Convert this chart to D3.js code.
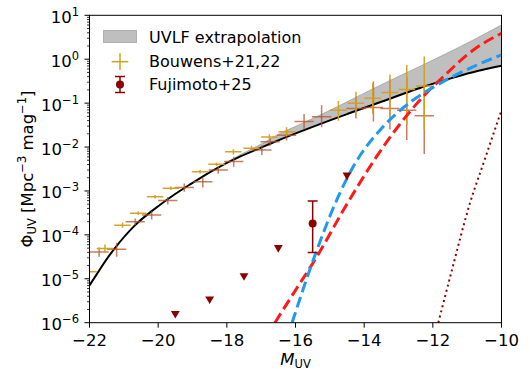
<!DOCTYPE html>
<html>
<head>
<meta charset="utf-8">
<script src="https://cdn.jsdelivr.net/npm/d3@7"></script>
<style>
  body { margin: 0; background: #fff; }
  text { font-family: "DejaVu Sans", sans-serif; fill: #000; }
</style>
</head>
<body>
<script>
// --- données (log10 de Phi) ---
const xTicks = [-22, -20, -18, -16, -14, -12, -10];
const yTickExps = [-6, -5, -4, -3, -2, -1, 0, 1];

// courbe noire (modèle)
const modelM   = [-22, -21.6, -21.26, -20.7, -20.14, -19.6, -19.07, -18.4, -17.62, -16.9, -16.45, -15.5, -14.5, -13.5, -12.4, -11.4, -10.7, -10];
const modelLog = [-5.15, -4.67, -4.3, -3.8, -3.43, -3.12, -2.85, -2.53, -2.22, -1.98, -1.83, -1.54, -1.25, -0.97, -0.66, -0.42, -0.27, -0.15];
// bord haut de la bande grise (extrapolation)
const bandHiLog = [-5.15, -4.67, -4.3, -3.8, -3.43, -3.12, -2.85, -2.53, -2.18, -1.89, -1.69, -1.35, -0.97, -0.58, -0.17, 0.21, 0.49, 0.78];

// courbe rouge en tirets
const redM   = [-16.6, -16.0, -15.38, -14.6, -13.64, -13.0, -12.28, -11.79, -10.82, -10];
const redLog = [-6.0, -5.26, -4.5, -3.43, -2.22, -1.52, -0.85, -0.47, 0.21, 0.59];
// courbe bleue en tirets
const blueM   = [-16.1, -15.38, -14.75, -14.32, -13.45, -12.57, -11.79, -10.82, -10];
const blueLog = [-6.0, -4.35, -3.12, -2.45, -1.54, -0.93, -0.55, -0.17, 0.1];
// courbe pointillée
const dotM   = [-11.84, -11.45, -10.92, -10.5, -10];
const dotLog = [-6.0, -4.82, -3.28, -2.31, -1.16];

// Bouwens+21 (doré)
const goldM   = [-22.03, -21.55, -21.04, -20.58, -20.09, -19.63, -18.78, -18.30, -17.81, -17.28, -16.76, -16.26, -14.75, -14.24, -13.75, -13.25, -12.76, -12.25];
const goldLog = [-4.84, -4.31, -3.78, -3.51, -3.13, -2.94, -2.56, -2.39, -2.11, -2.03, -1.77, -1.65, -1.16, -1.00, -0.89, -0.76, -0.69, -0.61];
const goldHi  = [-4.78, -4.22, -3.72, -3.47, -3.09, -2.90, -2.52, -2.35, -2.05, -1.97, -1.71, -1.55, -0.95, -0.74, -0.55, -0.35, -0.13, 0.06];
const goldLo  = [-4.91, -4.41, -3.84, -3.55, -3.17, -2.98, -2.60, -2.43, -2.17, -2.09, -1.83, -1.75, -1.40, -1.25, -1.25, -1.30, -1.50, -1.60];
// Bouwens+22 (brun)
const brownM   = [-21.72, -21.21, -20.67, -20.19, -19.72, -19.24, -18.70, -18.25, -17.80, -16.98, -16.74, -16.26, -15.75, -15.24, -14.24, -13.73, -13.25, -12.76, -12.25];
const brownLog = [-4.39, -4.33, -3.70, -3.55, -3.22, -2.92, -2.79, -2.52, -2.33, -2.07, -1.88, -1.73, -1.42, -1.31, -1.12, -1.10, -1.12, -1.16, -1.29];
const brownHi  = [-4.29, -4.18, -3.63, -3.46, -3.14, -2.83, -2.70, -2.44, -2.22, -1.96, -1.80, -1.62, -1.25, -1.05, -0.85, -0.51, -0.45, -0.40, -0.60];
const brownLo  = [-4.50, -4.50, -3.78, -3.65, -3.31, -3.02, -2.92, -2.61, -2.45, -2.18, -1.97, -1.85, -1.60, -1.55, -1.35, -1.42, -1.60, -1.84, -2.16];

// Fujimoto+25
const fujiM = [-15.5], fujiLog = [-3.74], fujiHi = [-3.23], fujiLo = [-4.40];
// limites supérieures
const limM   = [-19.5, -18.5, -17.5, -16.5, -14.5];
const limLog = [-5.79, -5.46, -4.93, -4.29, -2.64];

const W = 530, H = 383;
const plotL = 89.5, plotR = 501.5, plotT = 15.3, plotB = 322.7;

const x = d3.scaleLinear().domain([-22, -10]).range([plotL, plotR]);
const y = d3.scaleLog().domain([1e-6, 10]).range([plotB, plotT]);
const p = v => Math.pow(10, v);

const svg = d3.select("body").append("svg").attr("width", W).attr("height", H);

svg.append("clipPath").attr("id", "clip")
  .append("rect").attr("x", plotL).attr("y", plotT)
  .attr("width", plotR - plotL).attr("height", plotB - plotT);

const plot = svg.append("g").attr("clip-path", "url(#clip)");

// bande grise
const band = modelM.map((m, i) => ({ m: m, lo: modelLog[i], hi: bandHiLog[i] }));
plot.append("path")
  .datum(band)
  .attr("d", d3.area().curve(d3.curveNatural)
    .x(d => x(d.m)).y0(d => y(p(d.lo))).y1(d => y(p(d.hi))))
  .attr("fill", "#808080").attr("fill-opacity", 0.5)
  .attr("stroke", "#808080").attr("stroke-opacity", 0.5);

const smooth = d3.line().curve(d3.curveNatural).x(d => x(d[0])).y(d => y(p(d[1])));
const line = d3.line().curve(d3.curveMonotoneX).x(d => x(d[0])).y(d => y(p(d[1])));

// courbe noire
plot.append("path")
  .datum(modelM.map((m, i) => [m, modelLog[i]]))
  .attr("d", smooth).attr("fill", "none").attr("stroke", "#000").attr("stroke-width", 2);

// barres d'erreur Bouwens
function errorBars(ms, logs, his, los, xe, color, op) {
  const g = plot.append("g").attr("stroke", color).attr("stroke-width", 1.5).attr("stroke-opacity", op);
  ms.forEach((m, i) => {
    g.append("line").attr("x1", x(m - xe)).attr("x2", x(m + xe))
      .attr("y1", y(p(logs[i]))).attr("y2", y(p(logs[i])));
    g.append("line").attr("x1", x(m)).attr("x2", x(m))
      .attr("y1", y(p(his[i]))).attr("y2", y(p(los[i])));
  });
}
errorBars(brownM, brownLog, brownHi, brownLo, 0.28, "#b4532c", 0.75);
errorBars(goldM, goldLog, goldHi, goldLo, 0.24, "#d49f1c", 0.95);

// courbes en tirets
plot.append("path")
  .datum(redM.map((m, i) => [m, redLog[i]]))
  .attr("d", line).attr("fill", "none").attr("stroke", "#ff1a1a")
  .attr("stroke-width", 3).attr("stroke-dasharray", "11,5");
plot.append("path")
  .datum(blueM.map((m, i) => [m, blueLog[i]]))
  .attr("d", line).attr("fill", "none").attr("stroke", "#1e9af0")
  .attr("stroke-width", 3).attr("stroke-dasharray", "11,5");
plot.append("path")
  .datum(dotM.map((m, i) => [m, dotLog[i]]))
  .attr("d", line).attr("fill", "none").attr("stroke", "#8b0000")
  .attr("stroke-width", 2).attr("stroke-dasharray", "2,3.3");

// triangles (limites)
const tri = d3.symbol().type(d3.symbolTriangle).size(34);
plot.selectAll("path.lim")
  .data(limM.map((m, i) => [m, limLog[i]]))
  .enter().append("path").classed("lim", true)
  .attr("d", tri)
  .attr("transform", d => `translate(${x(d[0])},${y(p(d[1]))}) rotate(180)`)
  .attr("fill", "#8b0000");

// Fujimoto
const fg = plot.append("g").attr("stroke", "#8b0000").attr("stroke-width", 1.5);
fujiM.forEach((m, i) => {
  fg.append("line").attr("x1", x(m)).attr("x2", x(m)).attr("y1", y(p(fujiHi[i]))).attr("y2", y(p(fujiLo[i])));
  [fujiHi[i], fujiLo[i]].forEach(v => {
    fg.append("line").attr("x1", x(m) - 5).attr("x2", x(m) + 5).attr("y1", y(p(v))).attr("y2", y(p(v)));
  });
  fg.append("circle").attr("cx", x(m)).attr("cy", y(p(fujiLog[i]))).attr("r", 4).attr("fill", "#8b0000").attr("stroke", "none");
});

// axes
const axes = svg.append("g");
axes.append("rect").attr("x", plotL).attr("y", plotT)
  .attr("width", plotR - plotL).attr("height", plotB - plotT)
  .attr("fill", "none").attr("stroke", "#000").attr("stroke-width", 1);

xTicks.forEach(t => {
  axes.append("line").attr("x1", x(t)).attr("x2", x(t)).attr("y1", plotB).attr("y2", plotB + 5)
    .attr("stroke", "#000");
  axes.append("text").attr("x", x(t)).attr("y", plotB + 22.8)
    .attr("text-anchor", "middle").attr("font-size", 16.5)
    .text(String(t).replace("-", "\u2212"));
});

yTickExps.forEach(e => {
  const yy = y(p(e));
  axes.append("line").attr("x1", plotL - 5).attr("x2", plotL).attr("y1", yy).attr("y2", yy).attr("stroke", "#000");
  const t = axes.append("text").attr("x", 79).attr("y", yy + 7.5)
    .attr("text-anchor", "end").attr("font-size", 16.5);
  t.append("tspan").text("10");
  t.append("tspan").attr("font-size", 11.5).attr("dy", -7).text(String(e).replace("-", "\u2212"));
  if (e < 1) {
    for (let k = 2; k <= 9; k++) {
      const ym = y(k * p(e));
      axes.append("line").attr("x1", plotL - 2.5).attr("x2", plotL).attr("y1", ym).attr("y2", ym)
        .attr("stroke", "#000").attr("stroke-width", 0.8);
    }
  }
});

// titres des axes
const xl = svg.append("text").attr("x", (plotL + plotR) / 2).attr("y", 365)
  .attr("text-anchor", "middle").attr("font-size", 16.5);
xl.append("tspan").attr("font-style", "italic").text("M");
xl.append("tspan").attr("font-size", 11.5).attr("dy", 3).text("UV");

const yl = svg.append("text").attr("transform", `translate(33,${(plotT + plotB) / 2}) rotate(-90)`)
  .attr("text-anchor", "middle").attr("font-size", 16.5);
yl.append("tspan").text("\u03A6");
yl.append("tspan").attr("font-size", 11.5).attr("dy", 3).text("UV");
yl.append("tspan").attr("dy", -3).text(" [Mpc");
yl.append("tspan").attr("font-size", 11.5).attr("dy", -7).text("\u22123");
yl.append("tspan").attr("dy", 7).text(" mag");
yl.append("tspan").attr("font-size", 11.5).attr("dy", -7).text("\u22121");
yl.append("tspan").attr("dy", 7).text("]");

// légende
const lg = svg.append("g");
lg.append("rect").attr("x", 103.5).attr("y", 30.5).attr("width", 33).attr("height", 12)
  .attr("fill", "#808080").attr("fill-opacity", 0.5).attr("stroke", "#808080").attr("stroke-opacity", 0.5);
lg.append("text").attr("x", 149).attr("y", 42.7).attr("font-size", 16).text("UVLF extrapolation");

lg.append("line").attr("x1", 111.7).attr("x2", 128.3).attr("y1", 61.7).attr("y2", 61.7).attr("stroke", "#d49f1c").attr("stroke-width", 1.5);
lg.append("line").attr("x1", 120).attr("x2", 120).attr("y1", 53.3).attr("y2", 70).attr("stroke", "#d49f1c").attr("stroke-width", 1.5);
lg.append("text").attr("x", 149).attr("y", 66.5).attr("font-size", 16).text("Bouwens+21,22");

lg.append("line").attr("x1", 120).attr("x2", 120).attr("y1", 76.5).attr("y2", 92.5).attr("stroke", "#8b0000").attr("stroke-width", 1.5);
lg.append("line").attr("x1", 115).attr("x2", 125).attr("y1", 76.5).attr("y2", 76.5).attr("stroke", "#8b0000").attr("stroke-width", 1.5);
lg.append("line").attr("x1", 115).attr("x2", 125).attr("y1", 92.5).attr("y2", 92.5).attr("stroke", "#8b0000").attr("stroke-width", 1.5);
lg.append("circle").attr("cx", 120).attr("cy", 84.5).attr("r", 4).attr("fill", "#8b0000");
lg.append("text").attr("x", 149).attr("y", 89.5).attr("font-size", 16).text("Fujimoto+25");
</script>
</body>
</html>
